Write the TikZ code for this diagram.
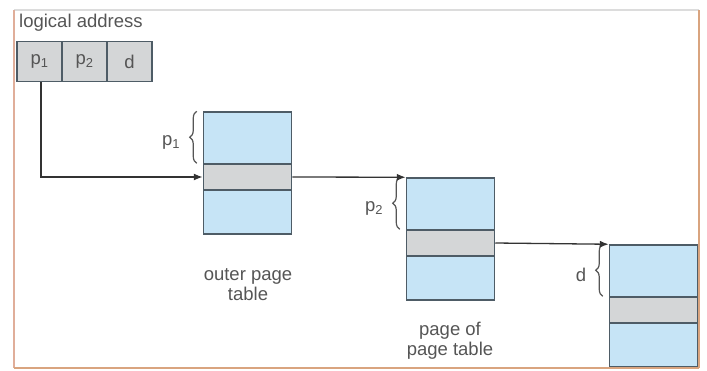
\documentclass[tikz,border=0pt]{standalone}
\usepackage{fontspec}
\setmainfont{Liberation Sans}
\usetikzlibrary{arrows.meta,decorations.pathreplacing}

\definecolor{pagefill}{HTML}{C6E4F6}
\definecolor{entryfill}{HTML}{D4D6D7}
\definecolor{edge}{HTML}{4E5C66}
\definecolor{textgray}{HTML}{555555}
\definecolor{frameleft}{HTML}{E0AE9A}
\definecolor{frameright}{HTML}{D9A47F}
\definecolor{frametop}{HTML}{DCDCDC}

\tikzset{
  cell/.style={draw=edge, fill=entryfill, line width=1.2pt,
    minimum width=45pt, minimum height=40pt, inner sep=0pt,
    text=textgray, font=\fontsize{18.5}{21}\selectfont},
  tbl/.style={draw=edge, fill=pagefill, line width=1.5pt,
    minimum width=88pt, minimum height=122pt, inner sep=0pt},
  entry/.style={draw=edge, fill=entryfill, line width=1.5pt,
    minimum width=88pt, minimum height=26pt, inner sep=0pt},
  lbl/.style={text=textgray, font=\fontsize{18.5}{20}\selectfont,
    inner sep=0pt, align=center},
  offset/.style={decorate, decoration={brace, amplitude=7pt},
    draw=textgray, line width=1.2pt},
  link/.style={draw=black!80, line width=1.3pt,
    -{Latex[length=9pt,width=7pt]}},
}

\begin{document}
\begin{tikzpicture}[x=1pt,y=-1pt]
    \useasboundingbox (0,0) rectangle (707,370);
    %% Logical address
    \node[lbl, anchor=west] (title) at (19,23) {logical address};
    \node[cell] (pone) at (39.5,61.5) {p\textsubscript{1}};
    \node[cell] (ptwo) at (84.5,61.5) {p\textsubscript{2}};
    \node[cell] (doff) at (129.5,61.5) {d};
    %% Tables
    \node[tbl] (outer) at (247.5,173) {};
    \node[entry] (outerent) at (247.5,177) {};
    \node[tbl] (inner) at (450.5,239) {};
    \node[entry] (innerent) at (450.5,243) {};
    \node[tbl] (page) at (653.5,306) {};
    \node[entry] (pageent) at (653.5,310) {};
    %% Table labels
    \node[lbl] (outerlbl) at (248,285) {outer page\\table};
    \node[lbl] (innerlbl) at (450,341) {page of\\page table};
    %% Braces and offsets
    \draw[offset] ([xshift=-6pt]outerent.north west) -- ([xshift=-6pt]outer.north west)
        node[lbl, midway, left=16pt, yshift=-5pt] (pone lbl) {p\textsubscript{1}};
    \draw[offset] ([xshift=-6pt]innerent.north west) -- ([xshift=-6pt]inner.north west)
        node[lbl, midway, left=16pt, yshift=-5pt] (ptwo lbl) {p\textsubscript{2}};
    \draw[offset] ([xshift=-6pt]pageent.north west) -- ([xshift=-6pt]page.north west)
        node[lbl, midway, left=16pt, yshift=-5pt] (doff lbl) {d};
    %% Arrows
    \draw[link] ([xshift=1.5pt]pone.south) |- (outerent.west);
    \draw[link] (outerent.east) -- (inner.north west);
    \draw[link] (innerent.east) -- (page.north west);
    %% Frame
    \draw[frametop, line width=1.5pt] (14,10) -- (699,10);
    \draw[frameleft, line width=2.5pt] (14,10) -- (14,368);
    \draw[frameright, line width=2.5pt] (699,10) -- (699,368);
    \draw[frameright, line width=2pt] (14,368) -- (699,368);
\end{tikzpicture}
\end{document}
